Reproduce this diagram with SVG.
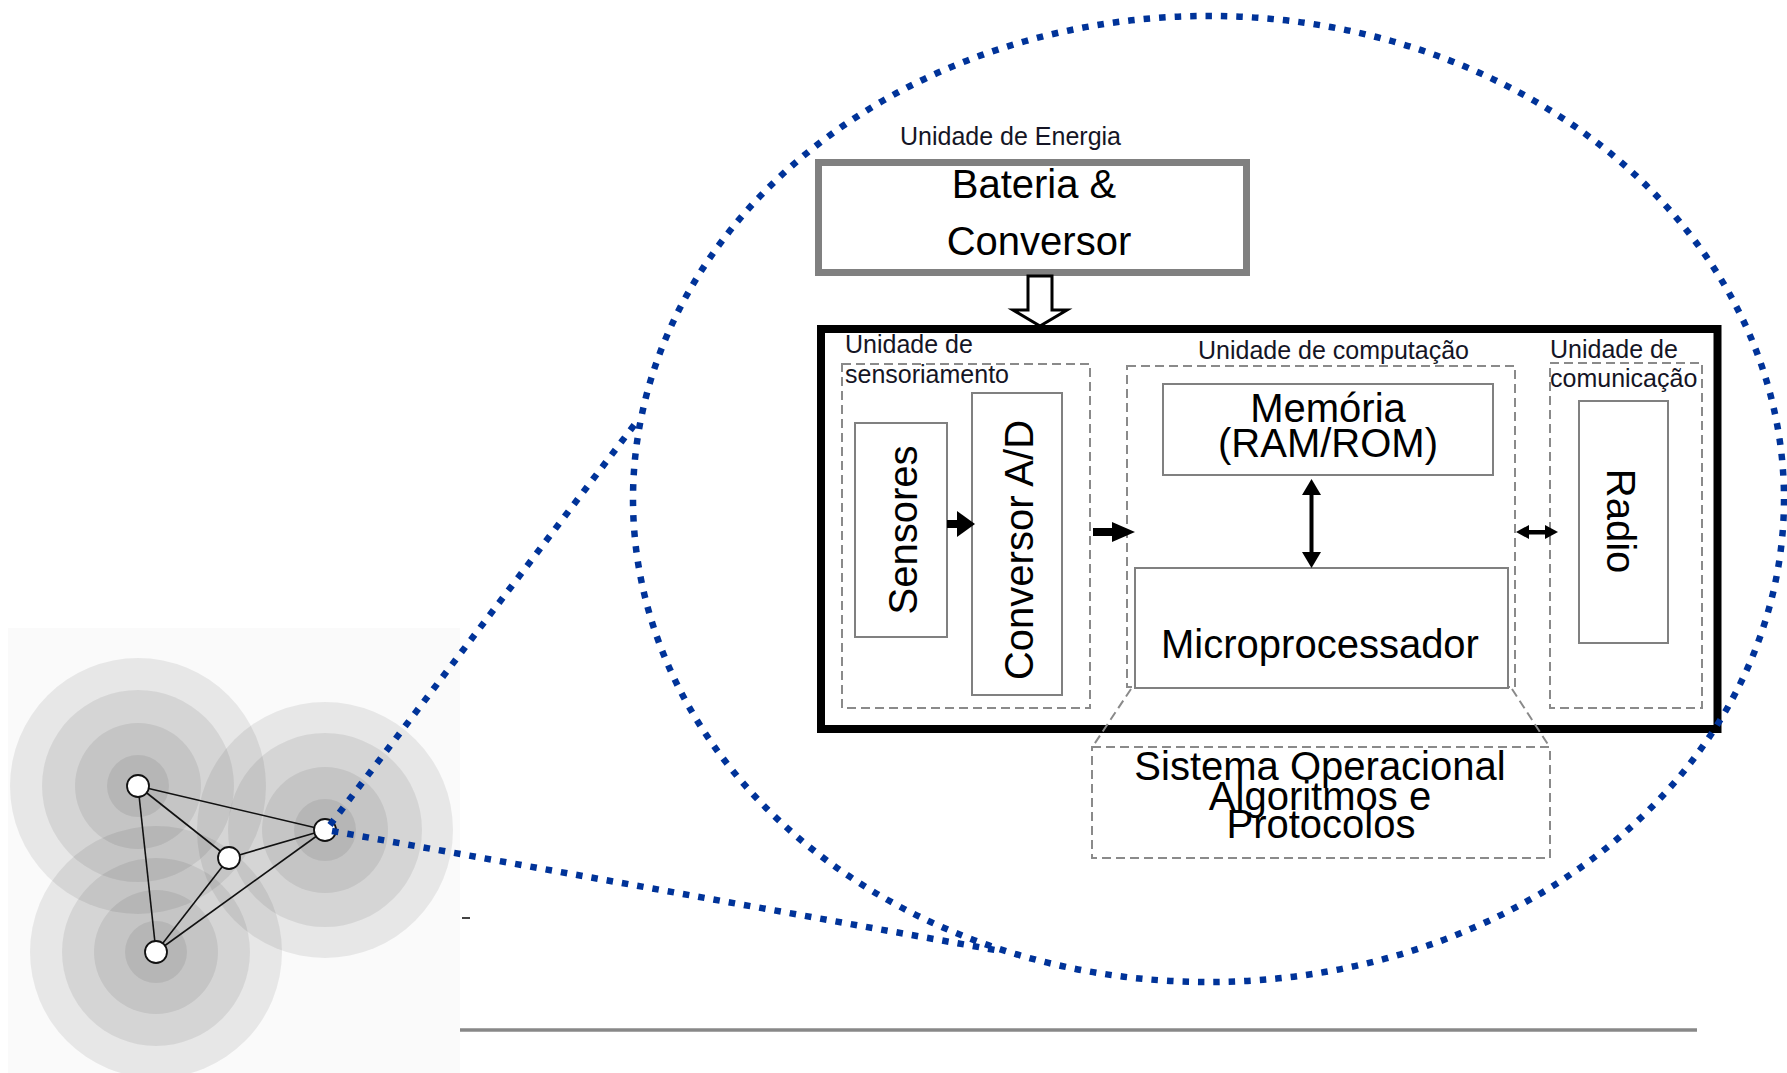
<svg xmlns="http://www.w3.org/2000/svg" width="1787" height="1073" viewBox="0 0 1787 1073">
<style>
  .lbl { font-family: "Liberation Sans", Arial, sans-serif; font-size: 25px; fill: #151525; }
  .big { font-family: "Liberation Sans", Arial, sans-serif; font-size: 40px; fill: #000; text-anchor: middle; }
  .box { fill: #fff; stroke: #808080; stroke-width: 2; }
  .dash { fill: none; stroke: #8a8a8a; stroke-width: 2; stroke-dasharray: 9 5; }
  .ring { fill: #000; fill-opacity: 0.075; }
  .edge { stroke: #111; stroke-width: 1.6; }
  .node { fill: #fff; stroke: #111; stroke-width: 1.8; }
  .dot { fill: none; stroke: #003399; stroke-width: 6.5; stroke-dasharray: 6.5 9; }
  .solid { fill: #000; }
</style>
<rect x="0" y="0" width="1787" height="1073" fill="#fff"/>
<g id="network">
  <rect x="8" y="628" width="452" height="445" fill="#fafafa"/>
  <g id="rings-A">
    <circle class="ring" cx="138" cy="786" r="128"/>
    <circle class="ring" cx="138" cy="786" r="96"/>
    <circle class="ring" cx="138" cy="786" r="63"/>
    <circle class="ring" cx="138" cy="786" r="31"/>
  </g>
  <g id="rings-D">
    <circle class="ring" cx="156" cy="952" r="126"/>
    <circle class="ring" cx="156" cy="952" r="94"/>
    <circle class="ring" cx="156" cy="952" r="62"/>
    <circle class="ring" cx="156" cy="952" r="31"/>
  </g>
  <g id="rings-B">
    <circle class="ring" cx="325" cy="830" r="128"/>
    <circle class="ring" cx="325" cy="830" r="97"/>
    <circle class="ring" cx="325" cy="830" r="63"/>
    <circle class="ring" cx="325" cy="830" r="31"/>
  </g>
  <g id="net-edges">
    <line class="edge" x1="138" y1="786" x2="325" y2="830"/>
    <line class="edge" x1="138" y1="786" x2="229" y2="858"/>
    <line class="edge" x1="138" y1="786" x2="156" y2="952"/>
    <line class="edge" x1="229" y1="858" x2="325" y2="830"/>
    <line class="edge" x1="229" y1="858" x2="156" y2="952"/>
    <line class="edge" x1="156" y1="952" x2="325" y2="830"/>
  </g>
  <circle id="nodeA" class="node" cx="138" cy="786" r="11"/>
  <circle id="nodeC" class="node" cx="229" cy="858" r="11"/>
  <circle id="nodeD" class="node" cx="156" cy="952" r="11"/>
  <circle id="nodeB" class="node" cx="325" cy="830" r="11"/>
</g>
<line x1="462" y1="918" x2="470" y2="918" stroke="#444" stroke-width="2"/>
<line x1="460" y1="1030" x2="1697" y2="1030" stroke="#888" stroke-width="3.5"/>

<g id="energia">
  <text class="lbl" x="900" y="145">Unidade de Energia</text>
  <rect x="818.5" y="162.5" width="428" height="110" fill="#fff" stroke="#808080" stroke-width="7"/>
  <text class="big" x="1034" y="198">Bateria &amp;</text>
  <text class="big" x="1039" y="255">Conversor</text>
</g>

<g id="main-box">
  <rect x="821" y="329" width="896.5" height="400" fill="#fff" stroke="#000" stroke-width="8"/>
</g>

<g id="sensoriamento">
  <rect class="dash" x="842" y="364" width="248" height="344"/>
  <text class="lbl" x="845" y="353">Unidade de</text>
  <text class="lbl" x="845" y="383">sensoriamento</text>
</g>
<g id="sensores">
  <rect class="box" x="855" y="423" width="92" height="214"/>
  <text class="big" transform="translate(917,530) rotate(-90)">Sensores</text>
</g>
<g id="conversor-ad">
  <rect class="box" x="972" y="393" width="90" height="302"/>
  <text class="big" transform="translate(1033,550) rotate(-90)">Conversor A/D</text>
</g>

<g id="computacao">
  <rect class="dash" x="1127" y="366" width="388" height="321"/>
  <text class="lbl" x="1198" y="359">Unidade de computação</text>
</g>
<g id="memoria">
  <rect class="box" x="1163" y="384" width="330" height="91"/>
  <text class="big" x="1328" y="422">Memória</text>
  <text class="big" x="1328" y="457">(RAM/ROM)</text>
</g>
<g id="microprocessador">
  <rect class="box" x="1135" y="568" width="373" height="120"/>
  <text class="big" x="1320" y="658">Microprocessador</text>
</g>

<g id="comunicacao">
  <rect class="dash" x="1550" y="363" width="152" height="345"/>
  <text class="lbl" x="1550" y="358">Unidade de</text>
  <text class="lbl" x="1550" y="387">comunicação</text>
</g>
<g id="radio">
  <rect class="box" x="1579" y="401" width="89" height="242"/>
  <text class="big" transform="translate(1607,521) rotate(90)">Radio</text>
</g>

<g id="sistema">
  <rect class="dash" x="1092" y="747" width="458" height="111"/>
  <text class="big" x="1320" y="780">Sistema Operacional</text>
  <text class="big" x="1320" y="810">Algoritmos e</text>
  <text class="big" x="1321" y="838">Protocolos</text>
</g>

<g id="connectors">
  <polygon points="1028,276 1028,310 1013,310 1040,326 1067,310 1052,310 1052,276" fill="#fff" stroke="#000" stroke-width="3" stroke-linejoin="miter"/>
  <rect class="solid" x="947" y="520" width="11" height="8"/>
  <polygon class="solid" points="957,511 975,524 957,537"/>
  <rect class="solid" x="1093" y="528" width="20" height="8"/>
  <polygon class="solid" points="1112,522 1135,532 1112,542"/>
  <rect class="solid" x="1309.5" y="492" width="4" height="62"/>
  <polygon class="solid" points="1311.5,479 1321,495 1302,495"/>
  <polygon class="solid" points="1311.5,568 1321,552 1302,552"/>
  <rect class="solid" x="1526" y="530" width="22" height="4.5"/>
  <polygon class="solid" points="1516,532 1529,525 1529,539"/>
  <polygon class="solid" points="1558,532 1545,525 1545,539"/>
  <line class="dash" x1="1131" y1="689" x2="1093" y2="746"/>
  <line class="dash" x1="1512" y1="689" x2="1549" y2="746"/>
</g>

<g id="zoom-lens">
  <ellipse class="dot" cx="1208.5" cy="499" rx="575.5" ry="483"/>
  <line class="dot" x1="330" y1="825" x2="638" y2="420"/>
  <line class="dot" x1="332" y1="831" x2="995" y2="950"/>
</g>
</svg>
